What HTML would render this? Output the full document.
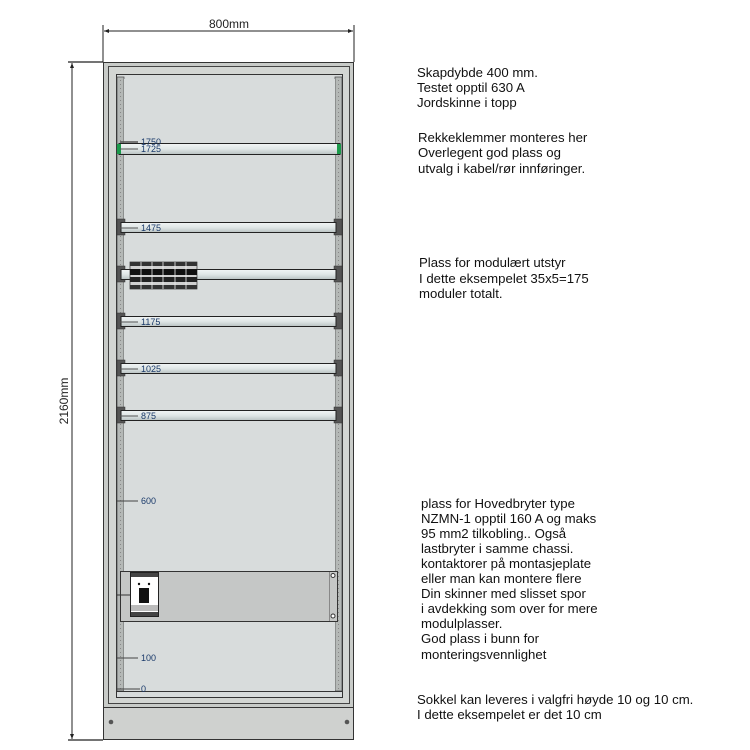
<!DOCTYPE html>
<html><head><meta charset="utf-8"><style>
body{margin:0;background:#fff;}
svg{display:block;font-family:"Liberation Sans",sans-serif;}
.t{font-size:13.2px;fill:#111;}
.l{font-size:9px;fill:#1a3a6a;}
</style></head><body>
<svg width="750" height="750" viewBox="0 0 750 750">
<defs>
<linearGradient id="rail" x1="0" y1="0" x2="0" y2="1">
<stop offset="0" stop-color="#f2f5f5"/><stop offset="0.5" stop-color="#dfe6e6"/><stop offset="1" stop-color="#b9c2c2"/>
</linearGradient>
<g id="clamp"><rect x="-4" y="-8" width="8" height="16" fill="#555" stroke="#333" stroke-width="0.5"/></g>
</defs>
<line x1="103" y1="25" x2="103" y2="62" stroke="#222"/>
<line x1="354" y1="25" x2="354" y2="62" stroke="#222"/>
<line x1="104" y1="31" x2="353" y2="31" stroke="#222"/>
<path d="M104 31l5-2v4z M353 31l-5-2v4z" fill="#222"/>
<text x="229" y="28" text-anchor="middle" style="font-size:12px" fill="#222">800mm</text>
<line x1="68" y1="62" x2="103" y2="62" stroke="#222" stroke-width="1.3"/>
<line x1="68" y1="740" x2="103" y2="740" stroke="#222" stroke-width="1.3"/>
<line x1="72" y1="63" x2="72" y2="739" stroke="#222"/>
<path d="M72 63l-2 5h4z M72 739l-2-5h4z" fill="#222"/>
<text transform="translate(68 401) rotate(-90)" text-anchor="middle" style="font-size:12px" fill="#222">2160mm</text>
<rect x="103.5" y="62.5" width="250" height="645" fill="#c8cbc8" stroke="#333"/>
<rect x="108.5" y="66.5" width="241" height="637" fill="#d3d6d3" stroke="#444"/>
<rect x="116.5" y="74.5" width="226" height="623" fill="#d7dbdb" stroke="#333"/>
<rect x="117" y="77" width="7" height="614" fill="#b4b8b6" stroke="#444" stroke-width="0.7"/>
<rect x="335" y="77" width="7" height="614" fill="#b4b8b6" stroke="#444" stroke-width="0.7"/>
<line x1="120.5" y1="80" x2="120.5" y2="690" stroke="#888" stroke-dasharray="1 3"/>
<line x1="338.5" y1="80" x2="338.5" y2="690" stroke="#888" stroke-dasharray="1 3"/>
<rect x="124" y="79" width="211" height="612" fill="#d8dcdc"/>
<line x1="116" y1="691.5" x2="342" y2="691.5" stroke="#333"/>
<rect x="103.5" y="707.5" width="250" height="32" fill="#cfd1cf" stroke="#333"/>
<circle cx="111" cy="722" r="2.3" fill="#555"/><circle cx="347" cy="722" r="2.3" fill="#555"/>
<rect x="119" y="143.5" width="221" height="11" fill="url(#rail)" stroke="#222"/>
<rect x="117" y="144" width="4" height="10" fill="#1a9a4a"/><rect x="337" y="144" width="4" height="10" fill="#1a9a4a"/>
<line x1="120" y1="142" x2="138" y2="142" stroke="#555" stroke-width="1.5"/>
<line x1="120" y1="149" x2="138" y2="149" stroke="#555"/>
<text x="141" y="145" class="l">1750</text><text x="141" y="152" class="l">1725</text>
<g>
<use href="#clamp" x="121" y="227"/><use href="#clamp" x="338" y="227"/>
<rect x="121" y="222.5" width="215" height="10" fill="url(#rail)" stroke="#222"/>
<line x1="120" y1="228" x2="138" y2="228" stroke="#555"/><text x="141" y="231" class="l">1475</text>
<use href="#clamp" x="121" y="274"/><use href="#clamp" x="338" y="274"/>
<rect x="121" y="269.5" width="215" height="10" fill="url(#rail)" stroke="#222"/>
<use href="#clamp" x="121" y="321"/><use href="#clamp" x="338" y="321"/>
<rect x="121" y="316.5" width="215" height="10" fill="url(#rail)" stroke="#222"/>
<line x1="120" y1="322" x2="138" y2="322" stroke="#555"/><text x="141" y="325" class="l">1175</text>
<use href="#clamp" x="121" y="368"/><use href="#clamp" x="338" y="368"/>
<rect x="121" y="363.5" width="215" height="10" fill="url(#rail)" stroke="#222"/>
<line x1="120" y1="369" x2="138" y2="369" stroke="#555"/><text x="141" y="372" class="l">1025</text>
<use href="#clamp" x="121" y="415"/><use href="#clamp" x="338" y="415"/>
<rect x="121" y="410.5" width="215" height="10" fill="url(#rail)" stroke="#222"/>
<line x1="120" y1="416" x2="138" y2="416" stroke="#555"/><text x="141" y="419" class="l">875</text>
</g>
<g>
<rect x="130" y="262" width="67" height="27" fill="#d0d0d0" stroke="#333" stroke-width="0.7"/>
<rect x="130" y="262" width="67" height="4" fill="#333"/>
<rect x="130" y="269" width="67" height="6" fill="#111"/>
<rect x="130" y="277" width="67" height="5" fill="#222"/>
<rect x="130" y="285" width="67" height="4" fill="#333"/>
<line x1="141" y1="262" x2="141" y2="289" stroke="#eee" stroke-width="0.8"/>
<line x1="152" y1="262" x2="152" y2="289" stroke="#eee" stroke-width="0.8"/>
<line x1="163" y1="262" x2="163" y2="289" stroke="#eee" stroke-width="0.8"/>
<line x1="175" y1="262" x2="175" y2="289" stroke="#eee" stroke-width="0.8"/>
<line x1="186" y1="262" x2="186" y2="289" stroke="#eee" stroke-width="0.8"/>
</g>
<line x1="117" y1="501" x2="138" y2="501" stroke="#444"/><text x="141" y="504" class="l">600</text>
<rect x="120.5" y="571.5" width="217" height="50" fill="#c5c7c6" stroke="#333"/>
<circle cx="333" cy="575.5" r="2" fill="#fff" stroke="#333"/><circle cx="333" cy="616" r="2" fill="#fff" stroke="#333"/>
<line x1="329.5" y1="572" x2="329.5" y2="621" stroke="#888"/>
<rect x="130.5" y="572.5" width="28" height="44" fill="#fff" stroke="#222"/>
<rect x="131" y="573" width="27" height="4" fill="#444"/><rect x="131" y="612" width="27" height="4" fill="#444"/>
<rect x="139" y="588" width="10" height="15" fill="#111"/>
<circle cx="139" cy="584" r="1.2" fill="#111"/><circle cx="149" cy="584" r="1.2" fill="#111"/>
<rect x="131" y="605" width="27" height="6" fill="#bbb"/>
<line x1="117" y1="595" x2="130" y2="595" stroke="#333"/>
<line x1="117" y1="658" x2="138" y2="658" stroke="#444"/><text x="141" y="661" class="l">100</text>
<line x1="117" y1="689" x2="140" y2="689" stroke="#444"/><text x="141" y="692" class="l">0</text>
<g class="t">
<text x="417" y="77">Skapdybde 400 mm.</text>
<text x="417" y="92">Testet opptil 630 A</text>
<text x="417" y="107">Jordskinne i topp</text>
<text x="418" y="142">Rekkeklemmer monteres her</text>
<text x="418" y="157">Overlegent god plass og</text>
<text x="418" y="173">utvalg i kabel/rør innføringer.</text>
<text x="419" y="267">Plass for modulært utstyr</text>
<text x="419" y="283">I dette eksempelet 35x5=175</text>
<text x="419" y="298">moduler totalt.</text>
<text x="421" y="508">plass for Hovedbryter type</text>
<text x="421" y="523">NZMN-1 opptil 160 A og maks</text>
<text x="421" y="538">95 mm2 tilkobling.. Også</text>
<text x="421" y="553">lastbryter i samme chassi.</text>
<text x="421" y="568">kontaktorer på montasjeplate</text>
<text x="421" y="583">eller man kan montere flere</text>
<text x="421" y="598">Din skinner med slisset spor</text>
<text x="421" y="613">i avdekking som over for mere</text>
<text x="421" y="628">modulplasser.</text>
<text x="421" y="643">God plass i bunn for</text>
<text x="421" y="659">monteringsvennlighet</text>
<text x="417" y="704">Sokkel kan leveres i valgfri  høyde 10 og 10 cm.</text>
<text x="417" y="719">I dette eksempelet er det 10 cm</text>
</g>
</svg>
</body></html>
